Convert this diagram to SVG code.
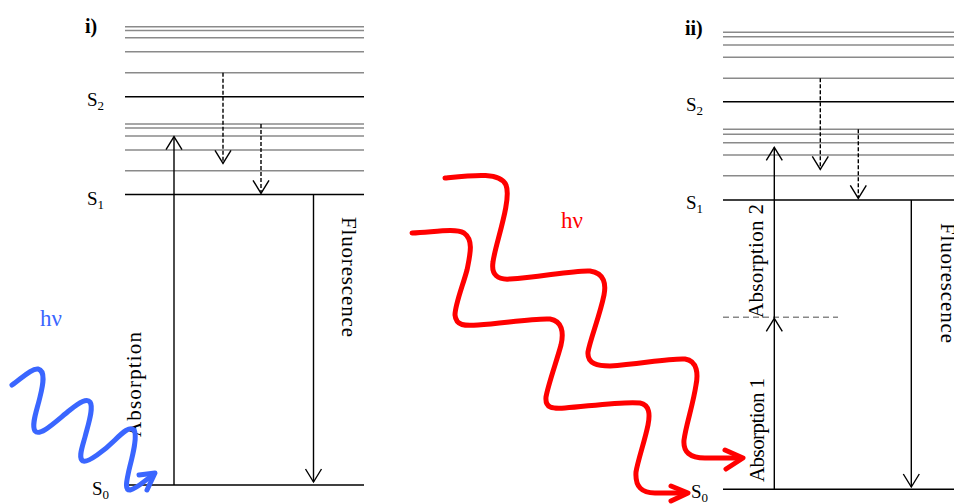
<svg xmlns="http://www.w3.org/2000/svg" width="954" height="504" viewBox="0 0 954 504">
<defs>
<style>
.lv{stroke:#8a8a8a;stroke-width:1.5;fill:none}
.st{stroke:#000;stroke-width:1.6;fill:none}
.ar{stroke:#000;stroke-width:1.4;fill:none}
.da{stroke:#000;stroke-width:1.4;fill:none;stroke-dasharray:4 2}
.gd{stroke:#888;stroke-width:1.4;fill:none;stroke-dasharray:6 4}
.wr{stroke:#ff0000;stroke-width:5;fill:none;stroke-linecap:round;stroke-linejoin:round}
.wb{stroke:#3a66ff;stroke-width:5;fill:none;stroke-linecap:round;stroke-linejoin:round}
.t{font-family:"Liberation Serif","Times New Roman",serif;fill:#000}
.lab{font-size:19px}
.sub{font-size:13px}
.rot{font-size:21px}
</style>
<marker id="v" markerUnits="userSpaceOnUse" markerWidth="20" markerHeight="20" viewBox="-15 -10 18 20" refX="0" refY="0" orient="auto">
<path d="M-13,-8 L0,0 L-13,8" fill="none" stroke="#000" stroke-width="1.4"/>
</marker>
</defs>

<g id="panel-i">
<g id="levels-i">
<line class="lv" x1="125" y1="26.7" x2="364" y2="26.7"/>
<line class="lv" x1="125" y1="30.5" x2="364" y2="30.5"/>
<line class="lv" x1="125" y1="37.7" x2="364" y2="37.7"/>
<line class="lv" x1="125" y1="51.7" x2="364" y2="51.7"/>
<line class="lv" x1="125" y1="72.7" x2="364" y2="72.7"/>
<line class="st" x1="125" y1="96.7" x2="364" y2="96.7"/>
<line class="lv" x1="125" y1="124" x2="364" y2="124"/>
<line class="lv" x1="125" y1="128" x2="364" y2="128"/>
<line class="lv" x1="125" y1="136" x2="364" y2="136"/>
<line class="lv" x1="125" y1="150" x2="364" y2="150"/>
<line class="lv" x1="125" y1="170.7" x2="364" y2="170.7"/>
<line class="st" x1="125" y1="194.5" x2="364" y2="194.5"/>
<line class="st" x1="125" y1="485" x2="364" y2="485"/>
</g>
<text class="t" x="85" y="33" font-size="20" font-weight="bold">i)</text>
<text class="t lab" x="87" y="106">S<tspan class="sub" dy="4">2</tspan></text>
<text class="t lab" x="87" y="205">S<tspan class="sub" dy="4">1</tspan></text>
<text class="t lab" x="92" y="495">S<tspan class="sub" dy="4">0</tspan></text>
<text class="t rot" transform="translate(141,437) rotate(-90)" textLength="105" lengthAdjust="spacing">Absorption</text>
<text class="t rot" transform="translate(342,217) rotate(90)" textLength="120" lengthAdjust="spacing">Fluorescence</text>
</g>

<g id="panel-ii">
<g id="levels-ii">
<line class="lv" x1="723" y1="32.3" x2="954" y2="32.3"/>
<line class="lv" x1="723" y1="36.7" x2="954" y2="36.7"/>
<line class="lv" x1="723" y1="45" x2="954" y2="45"/>
<line class="lv" x1="723" y1="57.3" x2="954" y2="57.3"/>
<line class="lv" x1="723" y1="78.3" x2="954" y2="78.3"/>
<line class="st" x1="723" y1="101.7" x2="954" y2="101.7"/>
<line class="lv" x1="723" y1="129.3" x2="954" y2="129.3"/>
<line class="lv" x1="723" y1="134.3" x2="954" y2="134.3"/>
<line class="lv" x1="723" y1="142.7" x2="954" y2="142.7"/>
<line class="lv" x1="723" y1="155" x2="954" y2="155"/>
<line class="lv" x1="723" y1="175.7" x2="954" y2="175.7"/>
<line class="st" x1="723" y1="200" x2="954" y2="200"/>
<line class="gd" x1="723" y1="317.3" x2="838" y2="317.3"/>
<line class="st" x1="723" y1="489.3" x2="954" y2="489.3"/>
</g>
<text class="t" x="685" y="35" font-size="20" font-weight="bold">ii)</text>
<text class="t lab" x="686" y="111">S<tspan class="sub" dy="4">2</tspan></text>
<text class="t lab" x="686" y="209">S<tspan class="sub" dy="4">1</tspan></text>
<text class="t lab" x="691" y="498">S<tspan class="sub" dy="4">0</tspan></text>
<text class="t rot" transform="translate(763,318) rotate(-90)" textLength="114" lengthAdjust="spacing">Absorption 2</text>
<text class="t rot" transform="translate(764,482) rotate(-90)" textLength="104" lengthAdjust="spacing">Absorption 1</text>
<text class="t rot" transform="translate(941,223) rotate(90)" textLength="120" lengthAdjust="spacing">Fluorescence</text>
</g>

<g id="connectors">
<line class="ar" x1="174" y1="485" x2="174" y2="136.7" marker-end="url(#v)"/>
<line class="da" x1="223" y1="72.7" x2="223" y2="163.3" marker-end="url(#v)"/>
<line class="da" x1="261" y1="124" x2="261" y2="193.3" marker-end="url(#v)"/>
<line class="ar" x1="313.5" y1="194.5" x2="313.5" y2="482" marker-end="url(#v)"/>
<line class="ar" x1="774.3" y1="489.3" x2="774.3" y2="318.3" marker-end="url(#v)"/>
<line class="ar" x1="774.3" y1="318.3" x2="774.3" y2="147.3" marker-end="url(#v)"/>
<line class="da" x1="820.3" y1="78.3" x2="820.3" y2="169.3" marker-end="url(#v)"/>
<line class="da" x1="858.3" y1="129.3" x2="858.3" y2="198.3" marker-end="url(#v)"/>
<line class="ar" x1="911.3" y1="200" x2="911.3" y2="487" marker-end="url(#v)"/>
</g>

<g id="photon-blue">
<text x="40" y="326" font-family="Liberation Serif,serif" font-size="23" fill="#3a66ff">hν</text>
<path class="wb" d="M12,385 C22,378 32,368 38,369 C46,371 43,385 40,397 C37,410 31,425 35,431 C40,437 55,422 70,410 C80,402 87,398 90,402 C94,408 88,425 85,437 C82,448 78,458 83,461 C88,463 105,450 115,440 C123,432 130,426 134,430 C138,436 132,458 129,470 C127,480 124,490 130,490 C138,488 145,480 153,475"/>
<path class="wb" d="M139,475 L155,473 L147,490"/>
</g>

<g id="photon-red">
<text x="561" y="228" font-family="Liberation Serif,serif" font-size="23" fill="#ff0000">hν</text>
<path class="wr" d="M445,178 C475,175 500,172 506,185 C512,200 495,245 493,262 C491,275 498,280 510,279 C540,277 575,270 590,271 C605,273 606,285 604,295 C600,315 590,340 588,352 C587,364 598,366 610,366 C640,364 670,358 685,359 C698,361 698,375 696,385 C693,405 686,425 684,440 C683,452 690,458 705,458 L741,458"/>
<path class="wr" d="M725,450 L743,458 L726,469"/>
<path class="wr" d="M412,233 C435,232 455,228 464,233 C474,240 470,255 467,270 C463,285 455,305 455,315 C456,326 465,326 478,325 C505,323 535,318 550,319 C562,321 564,332 561,345 C557,360 548,385 546,397 C545,408 552,409 565,408 C590,406 625,401 640,403 C650,405 650,415 648,425 C645,440 638,460 636,472 C635,487 642,493 655,493 L686,493"/>
<path class="wr" d="M671,486 L688,493 L671,501"/>
</g>
</svg>
